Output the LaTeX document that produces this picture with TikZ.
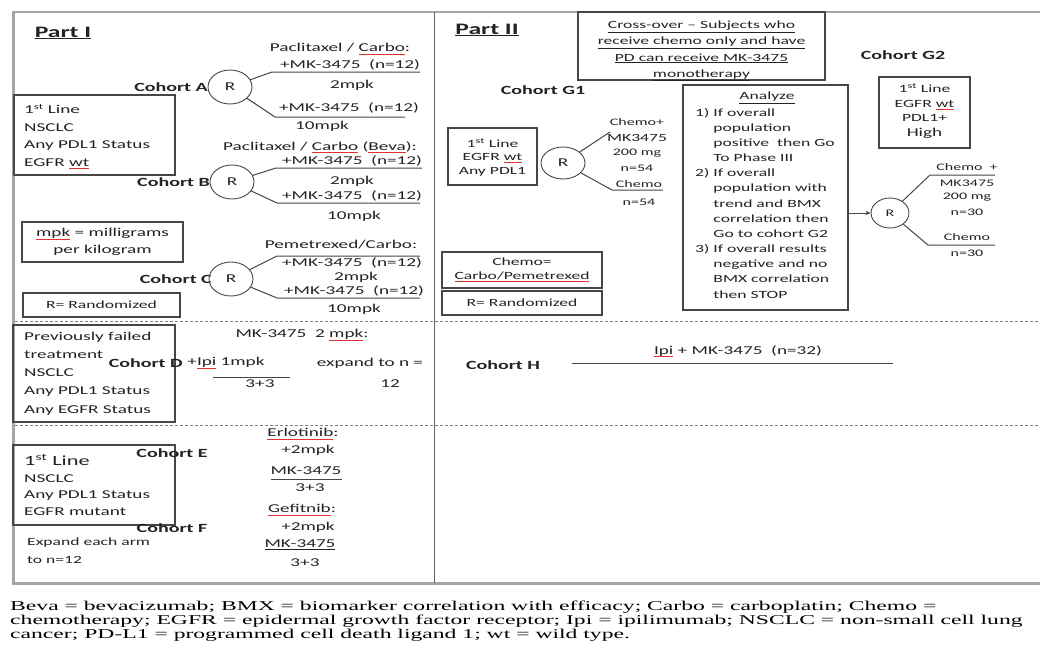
\documentclass[tikz,border=0pt]{standalone}
\usepackage{fontspec}
\setmainfont{Carlito}[FakeStretch=1.6]
\newfontfamily\ftrfont{Liberation Serif}[FakeStretch=1.75]
\usetikzlibrary{shapes.geometric,arrows.meta}
\definecolor{ink}{RGB}{35,35,35}
\definecolor{boxc}{RGB}{70,70,70}
\definecolor{framec}{RGB}{165,165,165}
\definecolor{sqc}{RGB}{225,50,50}
\newcommand\sqline[1]{\leavevmode\setbox0\hbox{#1}\rlap{\textcolor{sqc}{\rule[-2.5pt]{\wd0}{0.6pt}}}\box0\relax}
\tikzset{
 txt/.style={inner sep=0pt, text=ink, font=\fontsize{12}{14}\selectfont},
 sm/.style={inner sep=0pt, text=ink, font=\fontsize{11}{14}\selectfont},
 smtxt/.style={inner sep=0pt, text=ink, font=\fontsize{10}{13}\selectfont},
 lbl/.style={inner sep=0pt, text=ink, font=\fontsize{12.5}{14}\selectfont\bfseries},
 hdr/.style={inner sep=0pt, text=ink, font=\fontsize{16}{18}\selectfont\bfseries},
 boxst/.style={draw=boxc, line width=1.3pt, inner sep=0pt},
 rnode/.style={ellipse, draw=boxc, line width=0.9pt, minimum width=44pt, minimum height=34pt, inner sep=0pt, text=ink, font=\fontsize{12}{14}\selectfont},
 arm/.style={draw=boxc, line width=1pt},
 frameln/.style={draw=framec, line width=3pt},
 divln/.style={draw=gray!80!black, line width=1pt},
 dashln/.style={draw=gray, line width=0.8pt, dash pattern=on 3pt off 2pt},
 ftr/.style={inner sep=0pt, anchor=west, text=black, font=\ftrfont\fontsize{13.5}{14}\selectfont},
}
\begin{document}
\begin{tikzpicture}[x=1pt,y=-1pt]
\useasboundingbox (0,0) rectangle (1040,656);
\fill[white] (0,0) rectangle (1040,656);
% frame
\draw[framec, line width=1.5pt] (13,12) -- (1040,12);
\draw[frameln] (13,11) -- (13,584);
\draw[frameln] (12,583) -- (1040,583);
\draw[divln] (434,12) -- (434,583);
\draw[dashln] (15,321) -- (1040,321);
\draw[dashln] (15,425) -- (1040,425);

% ---------- Part I ----------
\node[hdr] (p1) at (63,33) {\underline{Part I}};

\node[boxst, minimum width=161pt, minimum height=80pt] (b1) at (94.5,135) {};
\node[txt, anchor=west, align=left, font=\fontsize{12}{17.6}\selectfont] (b1t) at (24,136.5) {1\textsuperscript{st} Line\\NSCLC\\Any PDL1 Status\\EGFR \sqline{wt}};

% Cohort A
\node[lbl, anchor=east] (cA) at (208,87) {Cohort A};
\node[rnode] (rA) at (230,87) {R};
\coordinate (a1s) at (272,72); \coordinate (a1e) at (420,72);
\coordinate (a2s) at (275,117); \coordinate (a2e) at (405,117);
\draw[arm] (rA) -- (a1s) -- (a1e);
\draw[arm] (rA) -- (a2s) -- (a2e);
\node[txt] (tA0) at (340,49) {Paclitaxel / \sqline{Carbo}:};
\node[txt] (tA1) at (350,65) {+MK-3475\ \ (n=12)};
\node[txt] (tA2) at (352,85) {2mpk};
\node[txt] (tA3) at (349,108) {+MK-3475\ \ (n=12)};
\node[txt] (tA4) at (322,126) {10mpk};

% Cohort B
\node[lbl, anchor=east] (cB) at (210,182) {Cohort B};
\node[rnode] (rB) at (232,182) {R};
\coordinate (b1s) at (276,168); \coordinate (b1e) at (422,168);
\coordinate (b2s) at (277,203); \coordinate (b2e) at (420,203);
\draw[arm] (rB) -- (b1s) -- (b1e);
\draw[arm] (rB) -- (b2s) -- (b2e);
\node[txt] (tB0) at (320,147) {Paclitaxel / \sqline{Carbo} (\sqline{Beva}):};
\node[txt] (tB1) at (352,161) {+MK-3475\ \ (n=12)};
\node[txt] (tB2) at (352,181) {2mpk};
\node[txt] (tB3) at (352,196) {+MK-3475\ \ (n=12)};
\node[txt] (tB4) at (354,216) {10mpk};

% mpk box and R box
\node[boxst, minimum width=161pt, minimum height=40pt] (mb) at (102.5,242) {};
\node[txt, align=center, font=\fontsize{12}{17}\selectfont] (mbt) at (102.5,242) {\sqline{mpk} = milligrams\\per kilogram};
\node[boxst, minimum width=157pt, minimum height=24pt] (rb1) at (101.5,305) {};
\node[sm] (rb1t) at (101.5,305) {R= Randomized};

% Cohort C
\node[lbl, anchor=east] (cC) at (212,279) {Cohort C};
\node[rnode] (rC) at (231,279) {R};
\coordinate (c1s) at (277,256); \coordinate (c1e) at (420,256);
\coordinate (c2s) at (277,298); \coordinate (c2e) at (420,298);
\draw[arm] (rC) -- (c1s) -- (c1e);
\draw[arm] (rC) -- (c2s) -- (c2e);
\node[txt] (tC0) at (341,245) {Pemetrexed/Carbo:};
\node[txt] (tC1) at (352,263) {+MK-3475\ \ (n=12)};
\node[txt] (tC2) at (356,277) {2mpk};
\node[txt] (tC3) at (354,291) {+MK-3475\ \ (n=12)};
\node[txt] (tC4) at (354,309) {10mpk};

% Cohort D
\node[boxst, minimum width=162pt, minimum height=97pt] (bD) at (94,373.5) {};
\node[txt, anchor=west, align=left, font=\fontsize{12}{18.2}\selectfont] (bDt) at (24,373.5) {Previously failed\\treatment\\NSCLC\\Any PDL1 Status\\Any EGFR Status};
\node[txt] (tD0) at (302,335) {MK-3475\ \ 2 \sqline{mpk}:};
\node[lbl, anchor=east] (cD) at (183,363) {Cohort D};
\node[txt] (tD1) at (226,363) {+\sqline{Ipi} 1mpk};
\coordinate (d1s) at (213,377); \coordinate (d1e) at (290,377);
\draw[arm] (d1s) -- (d1e);
\node[txt] (tD2) at (260,384) {3+3};
\node[txt] (tD3) at (370,363) {expand to n =};
\node[txt] (tD4) at (390,384) {12};

% Cohort E / F
\node[boxst, minimum width=162pt, minimum height=80pt] (bE) at (94,485) {};
\node[txt, anchor=west, align=left, font=\fontsize{12}{16.6}\selectfont] (bEt) at (24,485) {{\fontsize{14}{16}\selectfont 1\textsuperscript{st} Line}\\NSCLC\\Any PDL1 Status\\EGFR mutant};
\node[lbl] (cE) at (172,453) {Cohort E};
\node[lbl] (cF) at (172,528) {Cohort F};
\node[sm, anchor=west] (xp1) at (27,543) {Expand each arm};
\node[sm, anchor=west] (xp2) at (27,560) {to n=12};
\node[txt] (tE0) at (303,434) {\sqline{Erlotinib}:};
\node[txt] (tE1) at (308,450) {+2mpk};
\node[txt] (tE2) at (306,471) {MK-3475};
\coordinate (e1s) at (271,479); \coordinate (e1e) at (342,479);
\draw[arm] (e1s) -- (e1e);
\node[txt] (tE3) at (310,488) {3+3};
\node[txt] (tF0) at (302,510) {\sqline{Gefitnib}:};
\node[txt] (tF1) at (308,527) {+2mpk};
\node[txt] (tF2) at (300,545) {\underline{MK-3475}};
\node[txt] (tF3) at (305,563) {3+3};

% ---------- Part II ----------
\node[hdr] (p2) at (487,30) {\underline{Part II}};
\node[boxst, minimum width=247pt, minimum height=68pt] (xo) at (701.5,46) {};
\node[sm, align=center, font=\fontsize{11}{16.3}\selectfont] (xot) at (701.5,51) {\underline{Cross-over -- Subjects who}\\\underline{receive chemo only and have}\\\underline{PD can receive MK-3475}\\\underline{monotherapy}};

% Cohort G1
\node[lbl] (cG1) at (543,90) {Cohort G1};
\node[boxst, minimum width=89pt, minimum height=57pt] (bG1) at (492.5,156.5) {};
\node[sm, align=center, font=\fontsize{11}{13.5}\selectfont] (bG1t) at (492.5,157) {1\textsuperscript{st} Line\\EGFR \sqline{wt}\\Any PDL1};
\node[rnode, minimum width=44pt, minimum height=32pt] (rG1) at (563,163) {R};
\coordinate (g1a) at (610,132);
\coordinate (g1b) at (612,190); \coordinate (g1be) at (663,190);
\draw[arm] (rG1) -- (g1a);
\draw[arm] (rG1) -- (g1b) -- (g1be);
\node[smtxt] (tG1a) at (637,122) {Chemo+};
\node[sm] (tG1b) at (637,138) {MK3475};
\node[smtxt] (tG1c) at (637,153) {200 mg};
\node[smtxt] (tG1d) at (637,168) {n=54};
\node[smtxt] (tG1e) at (639,184) {Chemo};
\node[smtxt] (tG1f) at (639,202) {n=54};

\node[boxst, minimum width=160pt, minimum height=36pt] (chb) at (522,270) {};
\node[sm, align=center, font=\fontsize{11}{14}\selectfont] (chbt) at (522,270) {Chemo=\\\sqline{Carbo/Pemetrexed}};
\node[boxst, minimum width=160pt, minimum height=24pt] (rb2) at (522,303) {};
\node[sm] (rb2t) at (522,303) {R= Randomized};

% Analyze
\node[boxst, minimum width=165pt, minimum height=225pt] (an) at (765.5,197.5) {};
\node[sm] (ant) at (767,98) {\underline{Analyze}};
\node[sm, anchor=west, font=\fontsize{11}{15.17}\selectfont] (anl) at (695,204) {\begin{tabular}{@{}l@{\hspace{4pt}}l@{}}
1) & If overall\\
 & population\\
 & positive\ \ then Go\\
 & To Phase III\\
2) & If overall\\
 & population with\\
 & trend and BMX\\
 & correlation then\\
 & Go to cohort G2\\
3) & If overall results\\
 & negative and no\\
 & BMX correlation\\
 & then STOP
\end{tabular}};

% Cohort G2
\node[lbl] (cG2) at (903,55) {Cohort G2};
\node[boxst, minimum width=91pt, minimum height=71pt] (bG2) at (924.5,112.5) {};
\node[sm, align=center, font=\fontsize{11}{14.5}\selectfont] (bG2t) at (924.5,111) {1\textsuperscript{st} Line\\EGFR \sqline{wt}\\PDL1+\\{\fontsize{12}{14}\selectfont High}};
\node[rnode, minimum width=38pt, minimum height=30pt, font=\fontsize{10}{12}\selectfont] (rG2) at (890,213) {R};
\draw[arm, -{Stealth[length=5pt,width=4.5pt]}] (an.east |- rG2) -- (rG2);
\coordinate (g2a) at (930,175); \coordinate (g2ae) at (995,175);
\coordinate (g2b) at (928,245); \coordinate (g2be) at (995,245);
\draw[arm] (rG2) -- (g2a) -- (g2ae);
\draw[arm] (rG2) -- (g2b) -- (g2be);
\node[smtxt] (tG2a) at (967,167) {Chemo\ \ +};
\node[smtxt] (tG2b) at (967,183) {MK3475};
\node[smtxt] (tG2c) at (967,197) {200 mg};
\node[smtxt] (tG2d) at (967,212) {n=30};
\node[smtxt] (tG2e) at (967,237) {Chemo};
\node[smtxt] (tG2f) at (967,253) {n=30};

% Cohort H
\node[lbl] (cH) at (503,365) {Cohort H};
\coordinate (hs) at (572,363); \coordinate (he) at (893,363);
\draw[arm] (hs) -- (he);
\node[txt] (tH) at (738,351) {\sqline{Ipi} + MK-3475\ \ (n=32)};

% footer
\node[ftr] (f1) at (10,607) {Beva = bevacizumab; BMX = biomarker correlation with efficacy; Carbo = carboplatin; Chemo =};
\node[ftr] (f2) at (10,621) {chemotherapy; EGFR = epidermal growth factor receptor; Ipi = ipilimumab; NSCLC = non-small cell lung};
\node[ftr] (f3) at (10,635) {cancer; PD-L1 = programmed cell death ligand 1; wt = wild type.};
\end{tikzpicture}
\end{document}
